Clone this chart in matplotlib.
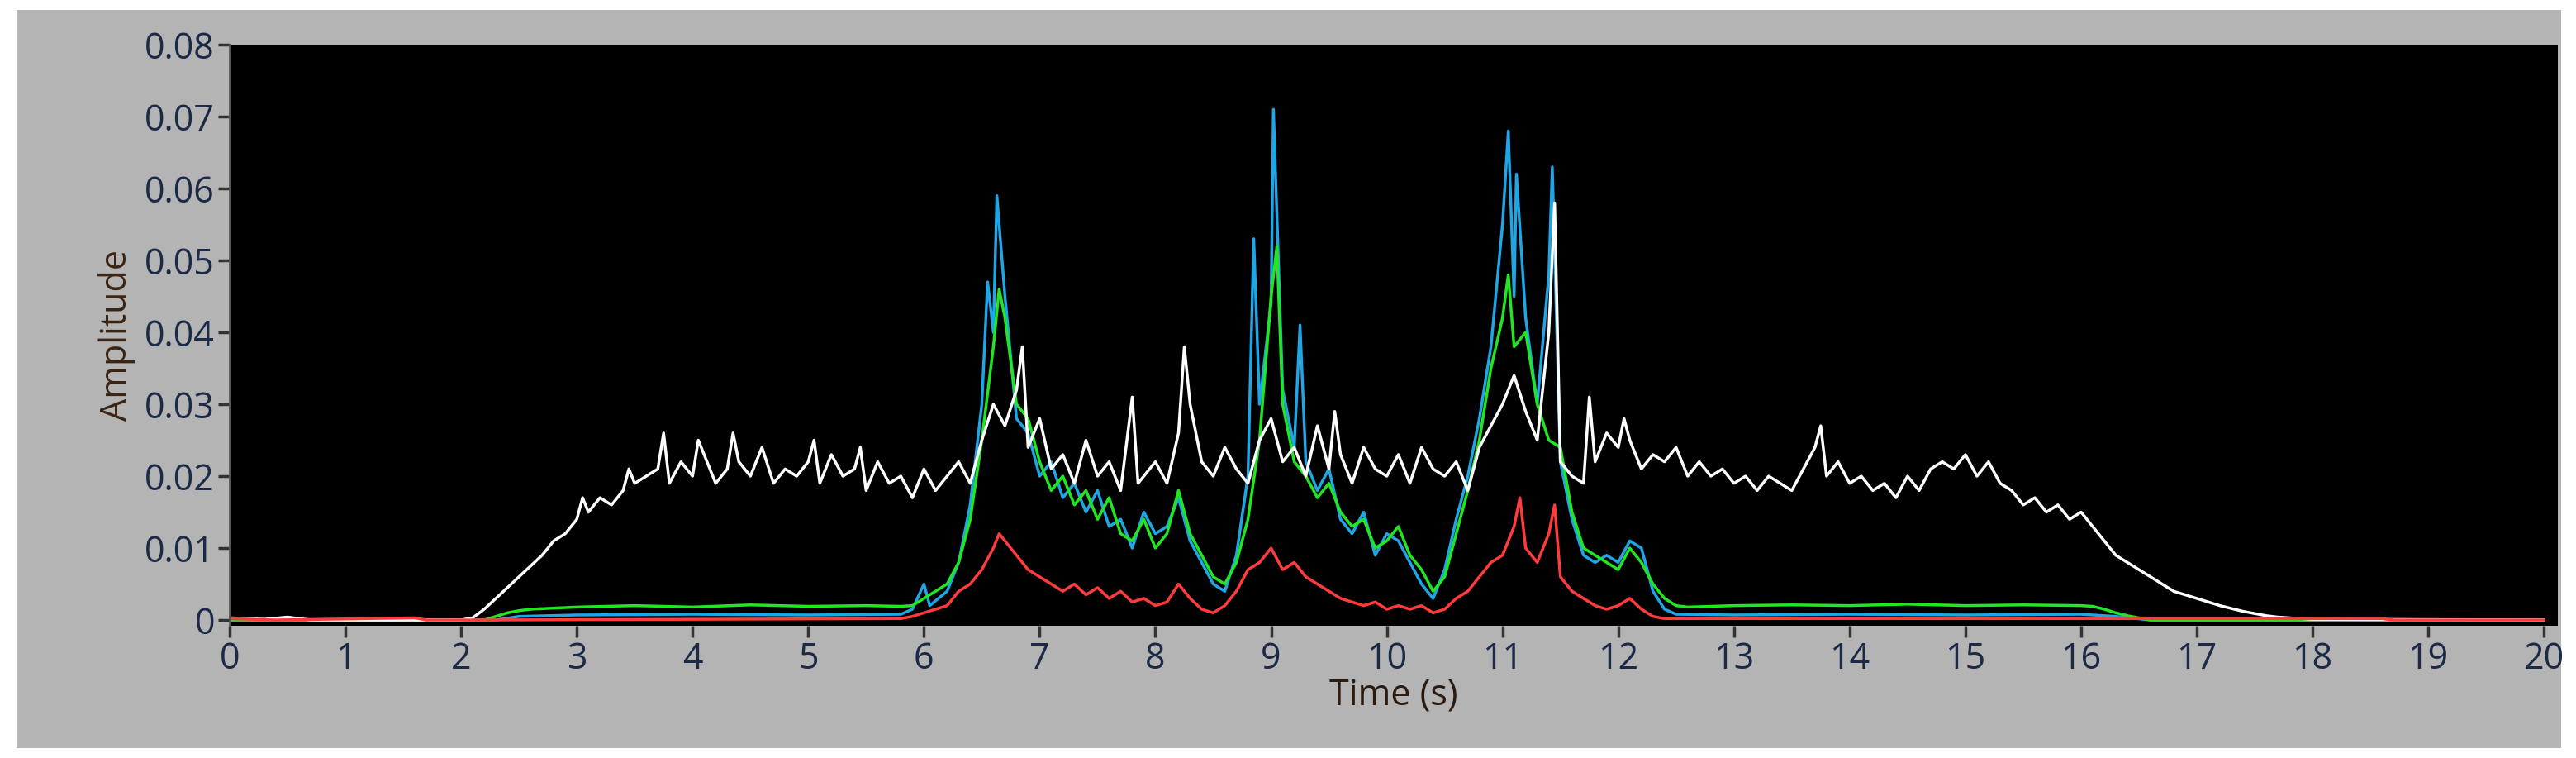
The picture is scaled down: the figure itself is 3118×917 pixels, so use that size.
import matplotlib
matplotlib.use("Agg")
import matplotlib.pyplot as plt
from matplotlib.patches import Rectangle

# values in units of 0.001 amplitude: (time s, value)
white = [(0,0.3),(0.3,0.1),(0.5,0.4),(0.7,0),(2.0,0),(2.1,0.3),(2.2,1.5),(2.3,3),(2.4,4.5),(2.5,6),(2.6,7.5),(2.7,9),(2.8,11),(2.9,12),
(3.0,14),(3.05,17),(3.1,15),(3.2,17),(3.3,16),(3.4,18),(3.45,21),(3.5,19),(3.6,20),(3.7,21),(3.75,26),(3.8,19),(3.9,22),(4.0,20),(4.05,25),
(4.1,23),(4.2,19),(4.3,21),(4.35,26),(4.4,22),(4.5,20),(4.6,24),(4.7,19),(4.8,21),(4.9,20),(5.0,22),(5.05,25),(5.1,19),(5.2,23),(5.3,20),
(5.4,21),(5.45,24),(5.5,18),(5.6,22),(5.7,19),(5.8,20),(5.9,17),(6.0,21),(6.1,18),(6.2,20),(6.3,22),(6.4,19),(6.5,25),(6.6,30),(6.7,27),
(6.8,32),(6.85,38),(6.9,24),(7.0,28),(7.1,21),(7.2,23),(7.3,19),(7.4,25),(7.5,20),(7.6,22),(7.7,18),(7.8,31),(7.85,19),(7.9,20),(8.0,22),
(8.1,19),(8.2,26),(8.25,38),(8.3,30),(8.4,22),(8.5,20),(8.6,24),(8.7,21),(8.8,19),(8.9,25),(9.0,28),(9.1,22),(9.2,24),(9.3,20),(9.4,27),
(9.5,21),(9.55,29),(9.6,23),(9.7,19),(9.8,24),(9.9,21),(10.0,20),(10.1,23),(10.2,19),(10.3,24),(10.4,21),(10.5,20),(10.6,22),(10.7,18),
(10.8,24),(10.9,27),(11.0,30),(11.1,34),(11.2,29),(11.3,25),(11.4,40),(11.45,58),(11.5,22),(11.6,20),(11.7,19),(11.75,31),(11.8,22),
(11.9,26),(12.0,24),(12.05,28),(12.1,25),(12.2,21),(12.3,23),(12.4,22),(12.5,24),(12.6,20),(12.7,22),(12.8,20),(12.9,21),(13.0,19),
(13.1,20),(13.2,18),(13.3,20),(13.4,19),(13.5,18),(13.6,21),(13.7,24),(13.75,27),(13.8,20),(13.9,22),(14.0,19),(14.1,20),(14.2,18),
(14.3,19),(14.4,17),(14.5,20),(14.6,18),(14.7,21),(14.8,22),(14.9,21),(15.0,23),(15.1,20),(15.2,22),(15.3,19),(15.4,18),(15.5,16),
(15.6,17),(15.7,15),(15.8,16),(15.9,14),(16.0,15),(16.1,13),(16.2,11),(16.3,9),(16.4,8),(16.5,7),(16.6,6),(16.7,5),(16.8,4),(16.9,3.5),
(17.0,3),(17.1,2.5),(17.2,2),(17.3,1.6),(17.4,1.2),(17.5,0.9),(17.6,0.6),(17.7,0.4),(17.8,0.3),(17.9,0.2),(18.0,0.1),(20.0,0)]

green = [(0,0),(2.2,0),(2.3,0.5),(2.4,1),(2.5,1.3),(2.6,1.5),(3.0,1.8),(3.5,2.0),(4.0,1.8),(4.5,2.1),(5.0,1.9),(5.5,2.0),(5.8,1.9),
(5.9,2),(6.0,3),(6.1,4),(6.2,5),(6.3,8),(6.4,14),(6.5,25),(6.6,38),(6.65,46),(6.7,42),(6.8,30),(6.9,28),(7.0,22),(7.1,18),(7.2,20),
(7.3,16),(7.4,18),(7.5,14),(7.6,17),(7.7,12),(7.8,11),(7.9,14),(8.0,10),(8.1,12),(8.2,18),(8.3,12),(8.4,9),(8.5,6),(8.6,5),(8.7,8),
(8.8,14),(8.9,25),(9.0,45),(9.05,52),(9.1,30),(9.2,22),(9.3,20),(9.4,17),(9.5,19),(9.6,15),(9.7,13),(9.8,14),(9.9,10),(10.0,11),
(10.1,13),(10.2,9),(10.3,7),(10.4,4),(10.5,6),(10.6,12),(10.7,18),(10.8,25),(10.9,35),(11.0,42),(11.05,48),(11.1,38),(11.2,40),
(11.3,30),(11.4,25),(11.5,24),(11.6,15),(11.7,10),(11.8,9),(11.9,8),(12.0,7),(12.1,10),(12.2,8),(12.3,5),(12.4,3),(12.5,2),(12.6,1.8),
(13.0,2.0),(13.5,2.1),(14.0,2.0),(14.5,2.2),(15.0,2.0),(15.5,2.1),(16.0,2.0),(16.1,1.9),(16.2,1.5),(16.3,1.0),(16.4,0.6),(16.5,0.3),
(16.6,0),(20.0,0)]

blue = [(0,0),(2.3,0),(2.5,0.5),(3.0,0.7),(4.0,0.8),(5.0,0.7),(5.8,0.8),(5.9,1.5),(6.0,5),(6.05,2),(6.2,4),(6.3,8),(6.4,16),(6.5,30),
(6.55,47),(6.6,40),(6.63,59),(6.7,45),(6.8,28),(6.9,26),(7.0,20),(7.1,22),(7.2,17),(7.3,19),(7.4,15),(7.5,18),(7.6,13),(7.7,14),
(7.8,10),(7.9,15),(8.0,12),(8.1,13),(8.2,17),(8.3,11),(8.4,8),(8.5,5),(8.6,4),(8.7,9),(8.8,20),(8.85,53),(8.9,30),(9.0,44),(9.02,71),
(9.1,32),(9.2,24),(9.25,41),(9.3,22),(9.4,18),(9.5,21),(9.6,14),(9.7,12),(9.8,15),(9.9,9),(10.0,12),(10.1,11),(10.2,8),(10.3,5),(10.4,3),
(10.5,7),(10.6,14),(10.7,20),(10.8,28),(10.9,38),(11.0,55),(11.05,68),(11.1,45),(11.12,62),(11.2,42),(11.3,30),(11.4,48),(11.43,63),
(11.5,22),(11.6,14),(11.7,9),(11.8,8),(11.9,9),(12.0,8),(12.1,11),(12.2,10),(12.3,4),(12.4,1.5),(12.5,0.8),(13.0,0.7),(14.0,0.8),
(15.0,0.7),(16.0,0.8),(16.3,0.5),(16.6,0),(20.0,0)]

red = [(0,0.2),(0.4,0),(1.6,0.3),(1.7,0),(2.2,0),(5.8,0.2),(5.9,0.5),(6.0,1),(6.1,1.5),(6.2,2),(6.3,4),(6.4,5),(6.5,7),(6.6,10),(6.65,12),
(6.7,11),(6.8,9),(6.9,7),(7.0,6),(7.1,5),(7.2,4),(7.3,5),(7.4,3.5),(7.5,4.5),(7.6,3),(7.7,4),(7.8,2.5),(7.9,3),(8.0,2),(8.1,2.5),(8.2,5),
(8.3,3),(8.4,1.5),(8.5,1),(8.6,2),(8.7,4),(8.8,7),(8.9,8),(9.0,10),(9.1,7),(9.2,8),(9.3,6),(9.4,5),(9.5,4),(9.6,3),(9.7,2.5),(9.8,2),
(9.9,2.5),(10.0,1.5),(10.1,2),(10.2,1.5),(10.3,2),(10.4,1),(10.5,1.5),(10.6,3),(10.7,4),(10.8,6),(10.9,8),(11.0,9),(11.1,13),(11.15,17),
(11.2,10),(11.3,8),(11.4,12),(11.45,16),(11.5,6),(11.6,4),(11.7,3),(11.8,2),(11.9,1.5),(12.0,2),(12.1,3),(12.2,1.5),(12.3,0.5),
(12.4,0.2),(18.6,0.2),(18.7,0),(20.0,0)]

series = [(blue, "#1ea6e6"), (green, "#22e622"), (white, "#ffffff"), (red, "#ff3b3b")]
xticks = list(range(0, 21))
yticks = [0, 0.01, 0.02, 0.03, 0.04, 0.05, 0.06, 0.07, 0.08]
ytick_labels = ["0", "0.01", "0.02", "0.03", "0.04", "0.05", "0.06", "0.07", "0.08"]

W, H = 3118, 917
fig = plt.figure(figsize=(W/100, H/100), dpi=100, facecolor="white")
bg = Rectangle((20/W, 12/H), 3080/W, 893/H, transform=fig.transFigure,
               facecolor="#b4b4b4", edgecolor="none", zorder=-10)
fig.add_artist(bg)
ax = fig.add_axes([278/W, 1-757/H, (3096-278)/W, (757-54)/H])
ax.set_zorder(5)
ax.set_facecolor("black")
for data, col in series:
    ax.plot([p[0] for p in data], [p[1]/1000 for p in data], color=col, lw=2.5)
ax.set_xlim(0, 20.12)
ax.set_ylim(-0.0008, 0.08)
tc = "#1c2a48"
fs = 31
ax.set_xticks(xticks)
ax.set_xticklabels([str(v) for v in xticks], fontsize=fs, color=tc, family="Open Sans")
ax.set_yticks(yticks)
ax.set_yticklabels(ytick_labels, fontsize=fs, color=tc, family="Open Sans")
ax.tick_params(axis="both", direction="out", length=10, width=2.5, color="#333333", pad=3)
for s in ax.spines.values():
    s.set_visible(False)
ax.spines["left"].set_visible(True)
ax.spines["left"].set_color("#555555")
ax.spines["left"].set_linewidth(2)
ax.set_xlabel("Time (s)", fontsize=fs, color="#2a1c10", family="Open Sans", labelpad=0)
ax.set_ylabel("Amplitude", fontsize=fs, color="#3a2414", family="Open Sans", labelpad=8)
fig.savefig("out.png", dpi=100, facecolor="white")
